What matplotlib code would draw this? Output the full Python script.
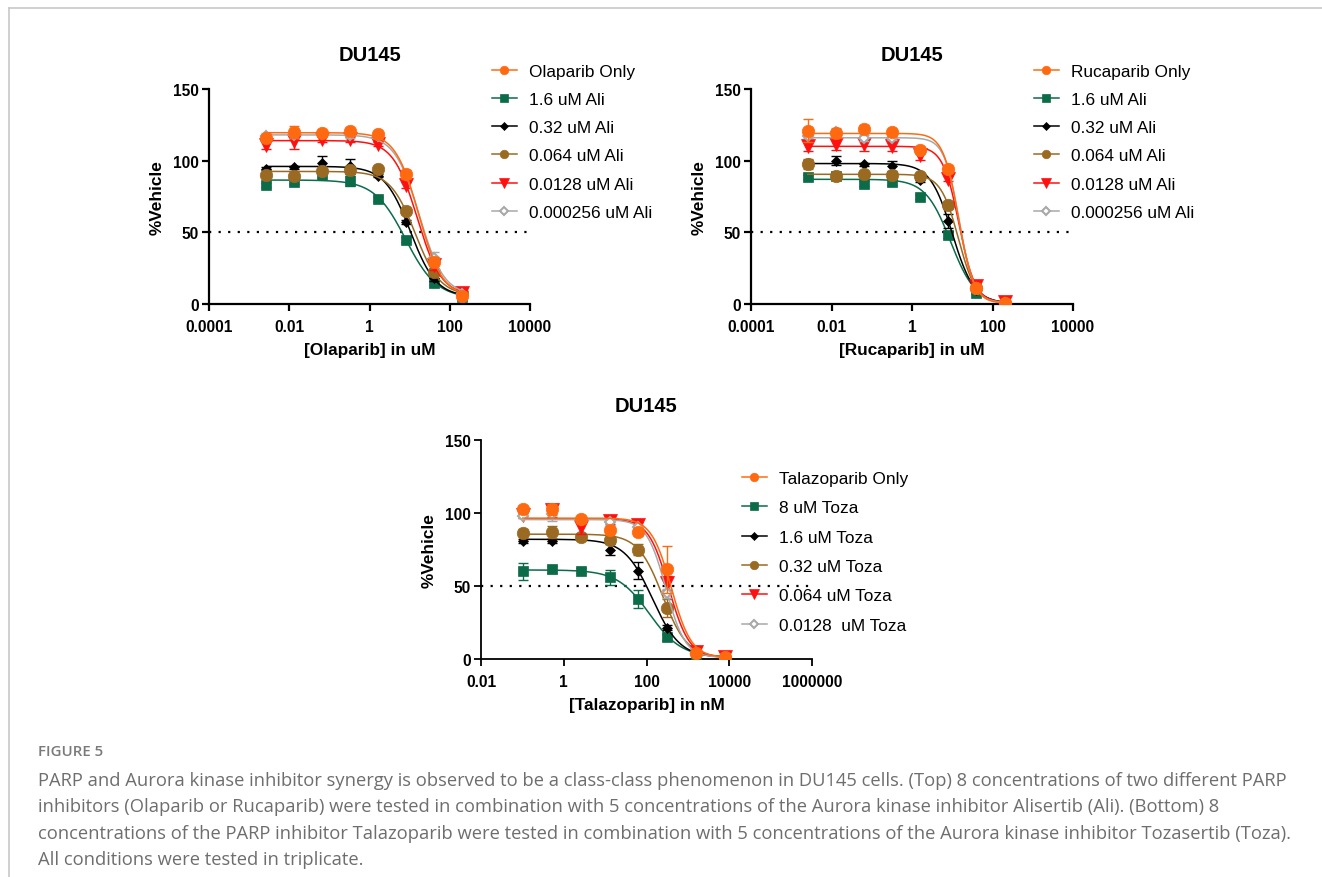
"""DU145 dose-response curves: PARP inhibitors combined with Aurora kinase inhibitors."""

import matplotlib
matplotlib.use("Agg")
import matplotlib.pyplot as plt
import numpy as np

plt.rcParams.update({
    "font.family": ["Liberation Sans", "DejaVu Sans"],
    "axes.spines.top": False, "axes.spines.right": False,
})

# ---- data ----
OLA_CONC = [0.00256, 0.0128, 0.064, 0.32, 1.6, 8, 40, 200]        # uM
RUCA_CONC = [0.00256, 0.0128, 0.064, 0.32, 1.6, 8, 40, 200]       # uM
TALA_CONC = [0.1024, 0.512, 2.56, 12.8, 64, 320, 1600, 8000]      # nM

OLA_LABELS = ["Olaparib Only", "1.6 uM Ali", "0.32 uM Ali", "0.064 uM Ali",
              "0.0128 uM Ali", "0.000256 uM Ali"]
RUCA_LABELS = ["Rucaparib Only", "1.6 uM Ali", "0.32 uM Ali", "0.064 uM Ali",
               "0.0128 uM Ali", "0.000256 uM Ali"]
TALA_LABELS = ["Talazoparib Only", "8 uM Toza", "1.6 uM Toza", "0.32 uM Toza",
               "0.064 uM Toza", "0.0128  uM Toza"]

OLA_MEAN = [
    [116, 120, 119, 120.5, 118.5, 90.5, 29.5, 5.5],
    [83, 85, 90.5, 86, 73.5, 45, 14.5, 5],
    [94.5, 95.5, 98.5, 96, 89.5, 57, 18, 6],
    [90, 89.5, 92.5, 93.5, 94, 65, 22, 7.5],
    [111, 113.5, 115, 115, 111.5, 83, 27, 7.5],
    [117, 118, 118.5, 118, 117, 90, 32, 7],
]
OLA_ERR = [
    [2, 4, 1.5, 1.5, 1, 3, 3, 1],
    [1.5, 1.5, 3, 3.5, 1.5, 1.5, 1.5, 1],
    [1, 1, 5, 5.5, 1, 1.5, 2, 1],
    [1.5, 1.5, 1.5, 1.5, 1.5, 2, 2, 1],
    [3, 5.5, 2, 2, 1.5, 2, 3, 1.5],
    [2, 2, 2, 2, 1.5, 2, 4, 1],
]
RUCA_MEAN = [
    [121, 119, 122, 120, 107.5, 94.5, 11.5, 0.5],
    [88.5, 89.5, 84, 85, 74.5, 48, 8, 0.5],
    [98.5, 100, 97.5, 96.5, 86.5, 58, 10, 1],
    [98, 89.5, 90.5, 90, 89, 69, 11, 0.5],
    [110.5, 111.5, 111.5, 110, 104, 87.5, 12.5, 1.5],
    [117, 120, 116, 116, 107, 94, 11, 1],
]
RUCA_ERR = [
    [8, 3, 3, 1.5, 2, 2, 1.5, 1],
    [1.5, 2.5, 1.5, 2, 1.5, 2, 1, 1],
    [2, 3, 1, 3.5, 1.5, 5, 1.5, 1],
    [3.5, 2, 2, 2, 1.5, 3, 1, 1],
    [4, 4, 4.5, 3.5, 3.5, 2, 1.5, 1.5],
    [1.5, 2.5, 2, 1.5, 1.5, 1.5, 1, 1],
]
TALA_MEAN = [
    [103, 102.5, 96, 88.5, 87, 61.5, 4, 1.5],
    [60, 61.5, 60.5, 56, 41, 15, 2.5, 1],
    [81, 81, 84, 75, 60.5, 21.5, 3, 1],
    [86.5, 87, 83.5, 81.5, 75, 35, 4, 1],
    [98.5, 102, 90.5, 94.5, 91.5, 52, 4.5, 1.5],
    [98, 99.5, 95.5, 93.5, 90.5, 45, 3.5, 1],
]
TALA_ERR = [
    [2, 4, 1.5, 2, 2, 16, 1, 1],
    [6, 2.5, 1.5, 5, 6, 2, 1, 1],
    [1.5, 1.5, 1.5, 4, 6, 1.5, 1, 1],
    [2.5, 4, 1.5, 2, 4, 6, 1, 1],
    [2, 4.5, 5, 2, 2, 5, 1.5, 3],
    [1.5, 5, 1.5, 1.5, 1.5, 3, 1, 1],
]

# 4-parameter logistic fits: top, bottom, logIC50, hill slope
OLA_FIT = [(119.5, 5, 1.23, 1.48), (86.5, 4, 0.90, 1.12), (96, 5, 1.02, 1.35),
           (92.5, 6, 1.14, 1.4), (114, 6, 1.19, 1.45), (118, 6, 1.24, 1.42)]
RUCA_FIT = [(119, 0.5, 1.157, 2.28), (87, 0, 0.96, 1.4), (98, 0.5, 1.0, 1.6),
            (90.5, 0.5, 1.155, 1.97), (110, 1, 1.17, 2.16), (116, 1, 1.17, 2.35)]
TALA_FIT = [(96.5, 1, 2.6, 1.8), (61, 1, 2.07, 1.12), (82, 1, 2.14, 1.3),
            (85.5, 1, 2.39, 1.46), (96, 1, 2.54, 1.77), (95.5, 1, 2.47, 1.87)]

TOP_XTICKS = [1e-4, 1e-2, 1, 1e2, 1e4]
TOP_XTICKLABELS = ["0.0001", "0.01", "1", "100", "10000"]
BOT_XTICKS = [1e-2, 1, 1e2, 1e4, 1e6]
BOT_XTICKLABELS = ["0.01", "1", "100", "10000", "1000000"]
YTICKS = [0, 50, 100, 150]

CAPTION_HEAD = "FIGURE 5"
CAPTION_LINES = [
    "PARP and Aurora kinase inhibitor synergy is observed to be a class-class phenomenon in DU145 cells. (Top) 8 concentrations of two different PARP",
    "inhibitors (Olaparib or Rucaparib) were tested in combination with 5 concentrations of the Aurora kinase inhibitor Alisertib (Ali). (Bottom) 8",
    "concentrations of the PARP inhibitor Talazoparib were tested in combination with 5 concentrations of the Aurora kinase inhibitor Tozasertib (Toza).",
    "All conditions were tested in triplicate.",
]

# ---- styles ----
STYLES = [
    dict(color="#FF6A10", marker="o", ms=9, mfc="#FF6A10"),
    dict(color="#0C6B48", marker="s", ms=7.5, mfc="#0C6B48"),
    dict(color="black", marker="D", ms=5.5, mfc="black"),
    dict(color="#9B6A22", marker="o", ms=9, mfc="#9B6A22"),
    dict(color="#FF1010", marker="v", ms=10, mfc="#FF1010"),
    dict(color="#A8A8A8", marker="D", ms=5.5, mfc="white"),
]
ZORDER = [9, 4, 5, 6, 7, 8]

W, H = 1322, 878
fig = plt.figure(figsize=(W / 100, H / 100), dpi=100)


def px_axes(x0, y0, x1, y1):
    return fig.add_axes([x0 / W, 1 - y1 / H, (x1 - x0) / W, (y1 - y0) / H])


def panel(ax, conc, means, errs, fits, labels, xticks, xticklabels, xlabel,
          leg_xy, leg_space, spine_w):
    conc = np.array(conc)
    handles = []
    for i in range(len(means)):
        st = STYLES[i]
        top, bot, c, h = fits[i]
        xs = np.logspace(np.log10(conc[0]), np.log10(conc[-1]), 300)
        ys = bot + (top - bot) / (1 + 10 ** ((np.log10(xs) - c) * h))
        ax.plot(xs, ys, color=st["color"], lw=1.1, zorder=ZORDER[i])
        ax.errorbar(conc, means[i], yerr=errs[i], fmt="none", ecolor=st["color"],
                    elinewidth=1.0, capsize=3.5, capthick=1.0, zorder=ZORDER[i])
        mew = 1.5 if st["mfc"] == "white" else 0.5
        ax.plot(conc, means[i], ls="none", marker=st["marker"], ms=st["ms"],
                mfc=st["mfc"], mec=st["color"], mew=mew, zorder=ZORDER[i] + 0.5)
        hd, = ax.plot([], [], color=st["color"], lw=1.1, marker=st["marker"],
                      ms=st["ms"] * 0.68, mfc=st["mfc"], mec=st["color"], mew=mew)
        handles.append(hd)
    ax.axhline(50, color="black", lw=1.6, ls=(0, (1, 3.3)), zorder=1)
    ax.set_xscale("log")
    ax.set_xlim(xticks[0], xticks[-1])
    ax.set_ylim(0, 150)
    ax.set_xticks(xticks)
    ax.set_xticklabels(xticklabels)
    ax.xaxis.set_minor_locator(matplotlib.ticker.NullLocator())
    ax.set_yticks(YTICKS)
    ax.tick_params(axis="both", width=spine_w, length=5, labelsize=11.2, pad=2.5)
    ax.tick_params(axis="x", pad=5.5)
    for lab in ax.get_xticklabels() + ax.get_yticklabels():
        lab.set_fontweight("bold")
    for sp in ("left", "bottom"):
        ax.spines[sp].set_linewidth(spine_w)
    ax.set_xlabel(xlabel, fontsize=12.4, fontweight="bold", labelpad=6)
    ax.set_ylabel("%Vehicle", fontsize=12.4, fontweight="bold", labelpad=6)
    ax.set_title("DU145", fontsize=14.5, fontweight="bold", pad=21)
    ax.set_facecolor("none")
    fig.legend(handles, labels, loc="upper left",
               bbox_to_anchor=(leg_xy[0] / W, 1 - leg_xy[1] / H),
               frameon=False, fontsize=12.4, handlelength=1.45, handletextpad=0.7,
               labelspacing=leg_space, borderpad=0, borderaxespad=0)


ax1 = px_axes(209, 90, 530, 305)
panel(ax1, OLA_CONC, OLA_MEAN, OLA_ERR, OLA_FIT, OLA_LABELS, TOP_XTICKS,
      TOP_XTICKLABELS, "[Olaparib] in uM", (492, 65), 0.76, 1.6)

ax2 = px_axes(751, 90, 1073, 305)
panel(ax2, RUCA_CONC, RUCA_MEAN, RUCA_ERR, RUCA_FIT, RUCA_LABELS, TOP_XTICKS,
      TOP_XTICKLABELS, "[Rucaparib] in uM", (1034, 65), 0.76, 1.6)

ax3 = px_axes(481, 441, 812, 660)
panel(ax3, TALA_CONC, TALA_MEAN, TALA_ERR, TALA_FIT, TALA_LABELS, BOT_XTICKS,
      BOT_XTICKLABELS, "[Talazoparib] in nM", (742, 472), 0.83, 1.3)

# frame lines of the page
fig.add_artist(plt.Line2D([9 / W, 1], [1 - 9 / H, 1 - 9 / H], color="#C8C8C8", lw=1.2))
fig.add_artist(plt.Line2D([9 / W, 9 / W], [0, 1 - 9 / H], color="#C8C8C8", lw=1.2))

# caption
fig.text(38 / W, 1 - 752 / H, CAPTION_HEAD, family=["Open Sans", "DejaVu Sans"],
         fontsize=10.8, fontweight="semibold", color="#7A7A7A", va="center")
for i, line in enumerate(CAPTION_LINES):
    fig.text(38 / W, 1 - (781 + 26.5 * i) / H, line, family=["Open Sans", "DejaVu Sans"],
             fontsize=13.2, color="#6E6E6E", va="center")

fig.savefig("out.png", dpi=100)
